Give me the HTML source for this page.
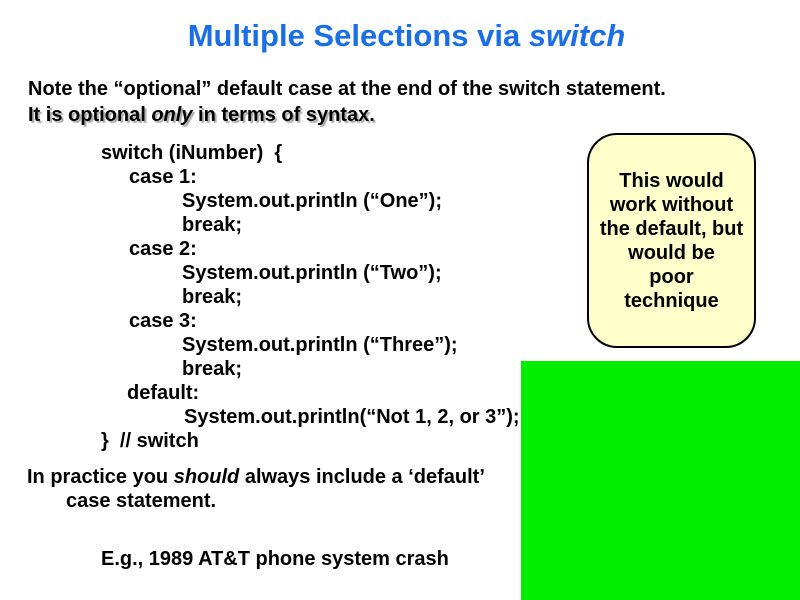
<!DOCTYPE html>
<html><head><style>
body{margin:0;width:800px;height:600px;background:#fff;position:relative;overflow:hidden;font-family:"Liberation Sans",sans-serif;font-weight:bold;color:#000}
.t{position:absolute;white-space:pre;font-size:20px;line-height:24px}
</style></head><body>
<div class="t" style="left:0;width:813px;text-align:center;top:18px;font-size:31px;line-height:36px;color:#1a6ee6;font-weight:bold">Multiple Selections via <i>switch</i></div>
<div class="t" style="left:28px;top:77px">Note the “optional” default case at the end of the switch statement.</div>
<div class="t" style="left:28px;top:103px;text-shadow:2px 2px 1px #aaa">It is optional <i>only</i> in terms of syntax.</div>
<div class="t" style="left:101px;top:141px">switch (iNumber)  {</div>
<div class="t" style="left:129px;top:165px">case 1:</div>
<div class="t" style="left:182px;top:189px">System.out.println (“One”);</div>
<div class="t" style="left:182px;top:213px">break;</div>
<div class="t" style="left:129px;top:237px">case 2:</div>
<div class="t" style="left:182px;top:261px">System.out.println (“Two”);</div>
<div class="t" style="left:182px;top:285px">break;</div>
<div class="t" style="left:129px;top:309px">case 3:</div>
<div class="t" style="left:182px;top:333px">System.out.println (“Three”);</div>
<div class="t" style="left:182px;top:357px">break;</div>
<div class="t" style="left:127px;top:381px">default:</div>
<div class="t" style="left:184px;top:405px">System.out.println(“Not 1, 2, or 3”);</div>
<div class="t" style="left:101px;top:429px">}  // switch</div>
<div class="t" style="left:27px;top:465px">In practice you <i>should</i> always include a ‘default’</div>
<div class="t" style="left:66px;top:489px">case statement.</div>
<div class="t" style="left:101px;top:547px">E.g., 1989 AT&amp;T phone system crash</div>
<div style="position:absolute;left:587px;top:133px;width:165px;height:211px;border:2px solid #000;border-radius:30px;background:#ffffcc"></div>
<div class="t" style="left:587px;width:169px;text-align:center;top:169px">This would
work without
the default, but
would be
poor
technique</div>
<div style="position:absolute;left:521px;top:361px;width:279px;height:239px;background:#00ee00"></div>
</body></html>
